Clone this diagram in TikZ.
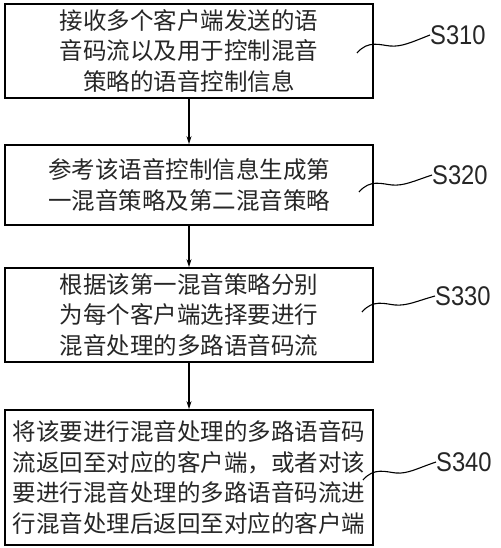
\documentclass[tikz,border=0pt]{standalone}
\usepackage{fontspec}
\newfontfamily\cjk{Noto Sans CJK SC}
\newfontfamily\labelfont{Liberation Sans}
\usetikzlibrary{arrows.meta, positioning}
\definecolor{textcol}{HTML}{262626}
\tikzset{
  stepbox/.style={rectangle, draw, line width=1.8pt, minimum width=368pt, inner sep=2pt,
                  align=center, text=textcol, font=\cjk\fontsize{23.5}{30.5}\selectfont},
  steplabel/.style={anchor=west, inner sep=0pt, xscale=0.88, text=textcol,
                    font=\labelfont\fontsize{27}{27}\selectfont},
  wave/.style={line width=1.1pt},
  flow/.style={->, line width=1.2pt},
}

\begin{document}
\begin{tikzpicture}[x=1pt, y=-1pt, >={Stealth[length=8pt, width=5pt]}]
  \useasboundingbox (0,0) rectangle (500,548);
  % ── step boxes ───────────────────────────────────────────────────
  \node[stepbox, minimum height=94pt]  (S1) at (189, 51)    {接收多个客户端发送的语\\音码流以及用于控制混音\\策略的语音控制信息};
  \node[stepbox, minimum height=80pt]  (S2) at (189, 185)   {参考该语音控制信息生成第\\一混音策略及第二混音策略};
  \node[stepbox, minimum height=94pt]  (S3) at (189, 315)   {根据该第一混音策略分别\\为每个客户端选择要进行\\混音处理的多路语音码流};
  \node[stepbox, minimum height=135pt] (S4) at (189, 477.5) {将该要进行混音处理的多路语音码\\流返回至对应的客户端，或者对该\\要进行混音处理的多路语音码流进\\行混音处理后返回至对应的客户端};
  % ── step labels ──────────────────────────────────────────────────
  \node[steplabel] (L1) at (430, 35)  {S310};
  \node[steplabel] (L2) at (432, 175) {S320};
  \node[steplabel] (L3) at (435, 296) {S330};
  \node[steplabel] (L4) at (436, 462) {S340};
  % ── wavy leaders ─────────────────────────────────────────────────
  \draw[wave] (357,53) .. controls (368,40) and (380,45) .. (390,46)
              .. controls (402,47) and (412,42) .. (L1.west);
  \draw[wave] (359,192) .. controls (370,179) and (382,184) .. (392,185)
              .. controls (404,186) and (414,181) .. (L2.west);
  \draw[wave] (362,312) .. controls (373,299) and (385,304) .. (395,305)
              .. controls (407,306) and (417,301) .. (L3.west);
  \draw[wave] (363,480) .. controls (374,467) and (386,472) .. (396,473)
              .. controls (408,474) and (418,468) .. (L4.west);
  % ── flow arrows ──────────────────────────────────────────────────
  \draw[flow] (S1) -- (S2);
  \draw[flow] (S2) -- (S3);
  \draw[flow] (S3) -- (S4);
\end{tikzpicture}
\end{document}
